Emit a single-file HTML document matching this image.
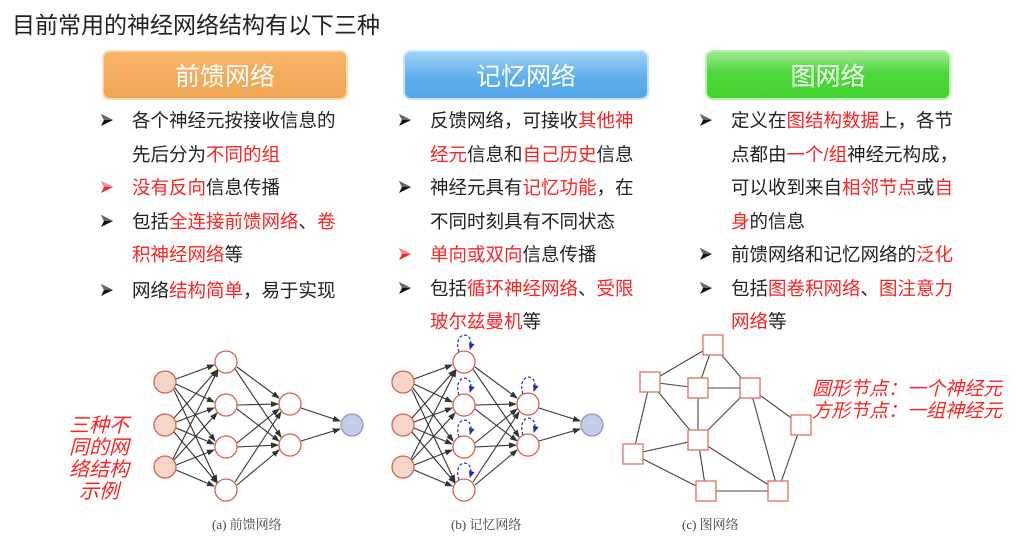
<!DOCTYPE html>
<html><head><meta charset="utf-8">
<style>
html,body{margin:0;padding:0;background:#fff;}
body{width:1024px;height:543px;position:relative;overflow:hidden;font-family:"Liberation Sans","Noto Sans CJK SC",sans-serif;color:#222;}
.t{position:absolute;white-space:nowrap;}
.title{left:12px;top:6px;font-size:23px;color:#222;}
.hdr{position:absolute;top:50px;height:50px;width:246px;border-radius:8px;color:#fff;font-size:25px;text-align:center;line-height:50px;box-sizing:border-box;}
.o{left:102px;background:linear-gradient(#f6b469,#f0a453);border:2px solid #fbd9b2;}
.b{left:403px;background:linear-gradient(#9fd2f6,#5eaeeb 55%,#55a6e8);border:2px solid #c6e4fa;}
.g{left:705px;background:linear-gradient(#9ee98f,#4dd83a 45%,#43d430);border:2px solid #b8f0ad;}
.col{position:absolute;font-size:18.5px;line-height:33.5px;}
.col div{white-space:nowrap;position:relative;}
.r{color:#f22;}
.ar{position:absolute;left:-32px;top:9px;width:14px;height:14px;}
.cap{position:absolute;font-size:13px;color:#444;font-family:"Liberation Serif","Noto Serif CJK SC",serif;}
.it{position:absolute;color:#f22;font-style:italic;font-size:19px;line-height:22px;text-align:center;}
</style></head><body>
<svg width="0" height="0" style="position:absolute">
<defs>
<symbol id="bk" viewBox="0 0 14 14"><path d="M1,1 L13,7 L1,13 L4,7 z" fill="#111"/><path d="M1,1 L13,7 L4,7 z" fill="#666"/></symbol>
<symbol id="rd" viewBox="0 0 14 14"><path d="M1,1 L13,7 L1,13 L4,7 z" fill="#f22"/><path d="M1,1 L13,7 L4,7 z" fill="#f88"/></symbol>
</defs></svg>
<div class="t title">目前常用的神经网络结构有以下三种</div>
<div class="hdr o">前馈网络</div>
<div class="hdr b">记忆网络</div>
<div class="hdr g">图网络</div>

<div class="col" style="left:132px;top:104px;">
<div><svg class="ar"><use href="#bk"/></svg>各个神经元按接收信息的</div>
<div>先后分为<span class="r">不同的组</span></div>
<div><svg class="ar"><use href="#rd"/></svg><span class="r">没有反向</span>信息传播</div>
<div><svg class="ar"><use href="#bk"/></svg>包括<span class="r">全连接前馈网络</span>、<span class="r">卷</span></div>
<div><span class="r">积神经网络</span>等</div>
<div style="top:2px"><svg class="ar"><use href="#bk"/></svg>网络<span class="r">结构简单</span>，易于实现</div>
</div>

<div class="col" style="left:430px;top:104px;">
<div><svg class="ar"><use href="#bk"/></svg>反馈网络，可接收<span class="r">其他神</span></div>
<div><span class="r">经元</span>信息和<span class="r">自己历史</span>信息</div>
<div><svg class="ar"><use href="#bk"/></svg>神经元具有<span class="r">记忆功能</span>，在</div>
<div>不同时刻具有不同状态</div>
<div><svg class="ar"><use href="#rd"/></svg><span class="r">单向或双向</span>信息传播</div>
<div><svg class="ar"><use href="#bk"/></svg>包括<span class="r">循环神经网络</span>、<span class="r">受限</span></div>
<div><span class="r">玻尔兹曼机</span>等</div>
</div>

<div class="col" style="left:731px;top:104px;">
<div><svg class="ar"><use href="#bk"/></svg>定义在<span class="r">图结构数据</span>上，各节</div>
<div>点都由<span class="r">一个/组</span>神经元构成，</div>
<div>可以收到来自<span class="r">相邻节点</span>或<span class="r">自</span></div>
<div><span class="r">身</span>的信息</div>
<div><svg class="ar"><use href="#bk"/></svg>前馈网络和记忆网络的<span class="r">泛化</span></div>
<div><svg class="ar"><use href="#bk"/></svg>包括<span class="r">图卷积网络</span>、<span class="r">图注意力</span></div>
<div><span class="r">网络</span>等</div>
</div>

<svg style="position:absolute;left:0;top:0" width="1024" height="543">
<defs>
<marker id="a" markerWidth="8" markerHeight="6" refX="7" refY="3" orient="auto" markerUnits="userSpaceOnUse"><path d="M0,0 L8,3 L0,6 z" fill="#333"/></marker>
<marker id="bl" markerWidth="7" markerHeight="6" refX="6" refY="3" orient="auto" markerUnits="userSpaceOnUse"><path d="M0,0 L7,3 L0,6 z" fill="#2233aa"/></marker>
</defs>
<g stroke="#333" stroke-width="1.1" marker-end="url(#a)">
<line x1="176" y1="379" x2="214" y2="365"/><line x1="176" y1="384" x2="214" y2="402"/><line x1="175" y1="388" x2="215" y2="441"/><line x1="174" y1="390" x2="217" y2="482"/>
<line x1="174" y1="418" x2="217" y2="370"/><line x1="176" y1="422" x2="214" y2="408"/><line x1="176" y1="428" x2="214" y2="444"/><line x1="174" y1="432" x2="217" y2="483"/>
<line x1="173" y1="459" x2="218" y2="370"/><line x1="174" y1="460" x2="217" y2="413"/><line x1="176" y1="465" x2="214" y2="450"/><line x1="176" y1="470" x2="214" y2="486"/>
<line x1="237" y1="367" x2="279" y2="398"/><line x1="235" y1="369" x2="281" y2="437"/>
<line x1="237" y1="405" x2="278" y2="404"/><line x1="237" y1="409" x2="279" y2="441"/>
<line x1="237" y1="443" x2="279" y2="409"/><line x1="237" y1="447" x2="278" y2="445"/>
<line x1="235" y1="482" x2="281" y2="412"/><line x1="237" y1="485" x2="279" y2="450"/>
<line x1="301" y1="408" x2="340" y2="421"/><line x1="301" y1="441" x2="340" y2="429"/>
<line x1="414" y1="379" x2="452" y2="365"/><line x1="414" y1="384" x2="452" y2="402"/><line x1="413" y1="388" x2="453" y2="441"/><line x1="412" y1="390" x2="455" y2="482"/>
<line x1="412" y1="418" x2="455" y2="370"/><line x1="414" y1="422" x2="452" y2="408"/><line x1="414" y1="428" x2="452" y2="444"/><line x1="412" y1="432" x2="455" y2="483"/>
<line x1="411" y1="459" x2="456" y2="370"/><line x1="412" y1="460" x2="455" y2="413"/><line x1="414" y1="465" x2="452" y2="450"/><line x1="414" y1="470" x2="452" y2="486"/>
<line x1="475" y1="367" x2="517" y2="398"/><line x1="473" y1="369" x2="519" y2="437"/>
<line x1="475" y1="405" x2="516" y2="404"/><line x1="475" y1="409" x2="517" y2="441"/>
<line x1="475" y1="443" x2="517" y2="409"/><line x1="475" y1="447" x2="516" y2="445"/>
<line x1="473" y1="482" x2="519" y2="412"/><line x1="475" y1="485" x2="517" y2="450"/>
<line x1="539" y1="408" x2="580" y2="421"/><line x1="539" y1="441" x2="580" y2="429"/>
</g>
<g fill="#f5d6c8" stroke="#d9604a" stroke-width="1.3">
<circle cx="165" cy="382" r="11"/><circle cx="165" cy="425" r="11"/><circle cx="165" cy="467" r="11"/>
<circle cx="403" cy="382" r="11"/><circle cx="403" cy="425" r="11"/><circle cx="403" cy="467" r="11"/>
</g>
<g fill="#fff" stroke="#d9604a" stroke-width="1.3">
<circle cx="226" cy="362" r="11"/><circle cx="226" cy="405" r="11"/><circle cx="226" cy="447" r="11"/><circle cx="226" cy="490" r="11"/>
<circle cx="290" cy="404" r="11"/><circle cx="290" cy="445" r="11"/>
<circle cx="464" cy="362" r="11"/><circle cx="464" cy="405" r="11"/><circle cx="464" cy="447" r="11"/><circle cx="464" cy="490" r="11"/>
<circle cx="528" cy="404" r="11"/><circle cx="528" cy="445" r="11"/>
</g>
<g fill="#c5cce8" stroke="#8a98cc" stroke-width="1.3">
<circle cx="352" cy="425" r="11"/><circle cx="592" cy="425" r="11"/>
</g>
<g fill="none" stroke="#2233aa" stroke-width="1.2" stroke-dasharray="3,2" marker-end="url(#bl)">
<path d="M459,352 C452,330 476,330 470,349"/>
<path d="M459,395 C452,373 476,373 470,392"/>
<path d="M459,437 C452,415 476,415 470,434"/>
<path d="M459,480 C452,458 476,458 470,477"/>
<path d="M523,394 C516,372 540,372 534,391"/>
<path d="M523,435 C516,413 540,413 534,432"/>
</g>
<g stroke="#444" stroke-width="1.1">
<line x1="713" y1="345" x2="650" y2="382"/><line x1="713" y1="345" x2="698" y2="388"/><line x1="713" y1="345" x2="750" y2="388"/>
<line x1="650" y1="382" x2="698" y2="388"/><line x1="650" y1="382" x2="698" y2="440"/><line x1="650" y1="382" x2="633" y2="454"/>
<line x1="698" y1="388" x2="750" y2="388"/><line x1="698" y1="388" x2="698" y2="440"/><line x1="750" y1="388" x2="698" y2="440"/>
<line x1="750" y1="388" x2="778" y2="491"/><line x1="750" y1="388" x2="801" y2="425"/><line x1="801" y1="425" x2="778" y2="491"/>
<line x1="698" y1="440" x2="633" y2="454"/><line x1="698" y1="440" x2="706" y2="491"/><line x1="698" y1="440" x2="778" y2="491"/>
<line x1="633" y1="454" x2="706" y2="491"/><line x1="706" y1="491" x2="778" y2="491"/>
</g>
<g fill="#fff" stroke="#e07a6a" stroke-width="1.4">
<rect x="703" y="335" width="20" height="20"/><rect x="640" y="372" width="20" height="20"/><rect x="688" y="378" width="20" height="20"/>
<rect x="740" y="378" width="20" height="20"/><rect x="791" y="415" width="20" height="20"/><rect x="688" y="430" width="20" height="20"/>
<rect x="623" y="444" width="20" height="20"/><rect x="696" y="481" width="20" height="20"/><rect x="768" y="481" width="20" height="20"/>
</g>
</svg>

<div class="it" style="left:812px;top:379px;text-align:left;">圆形节点：一个神经元<br>方形节点：一组神经元</div>
<div class="it" style="left:50px;top:415px;width:98px;font-size:20px;">三种不<br>同的网<br>络结构<br>示例</div>
<div class="cap" style="left:212px;top:514px;">(a) 前馈网络</div>
<div class="cap" style="left:451px;top:514px;">(b) 记忆网络</div>
<div class="cap" style="left:682px;top:514px;">(c) 图网络</div>
</body></html>
